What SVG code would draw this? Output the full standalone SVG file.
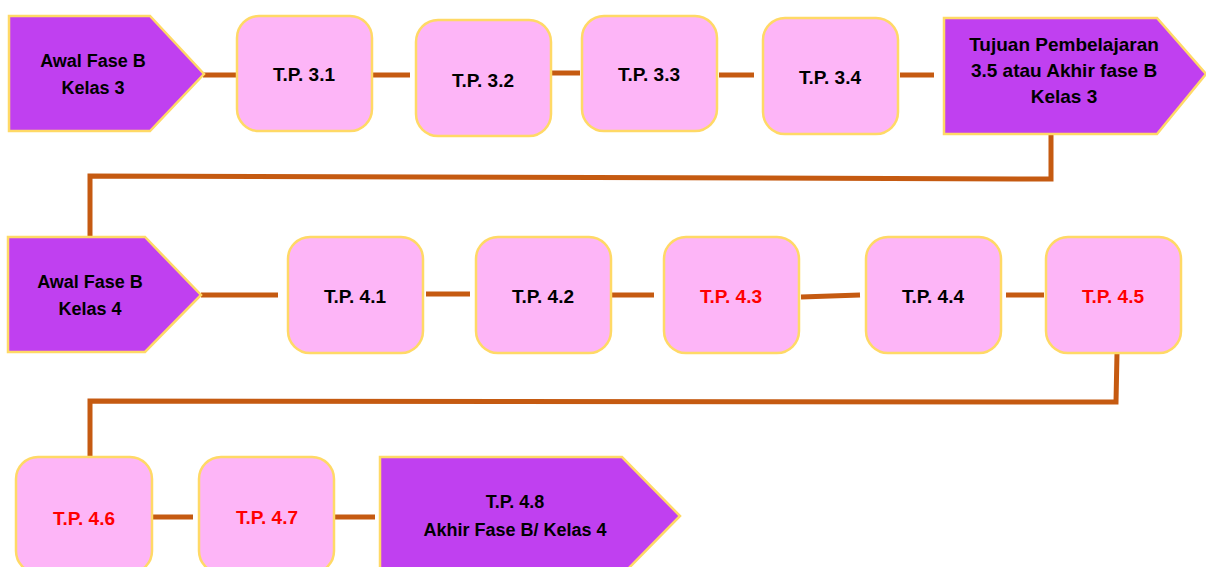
<svg xmlns="http://www.w3.org/2000/svg" width="1206" height="567" viewBox="0 0 1206 567">
<style>
.pent{fill:#C040F0;stroke:#FFD966;stroke-width:2.5}
.box{fill:#FDB5F7;stroke:#FFD966;stroke-width:2.5}
.t{font-family:"Liberation Sans",Arial,sans-serif;font-weight:bold;font-size:19px;text-anchor:middle;fill:#000}
.s{font-size:18px}
.r{fill:#FF0000}
.c{fill:none;stroke:#C55A11;stroke-width:5}
</style>
<rect width="1206" height="567" fill="#fff"/>
<g id="connectors">
<line class="c" x1="203" y1="75" x2="237" y2="75"/>
<line class="c" x1="372" y1="75" x2="410" y2="75"/>
<line class="c" x1="551" y1="73" x2="580" y2="73"/>
<line class="c" x1="719" y1="75" x2="754" y2="75"/>
<line class="c" x1="900" y1="75" x2="934" y2="75"/>
<polyline class="c" points="1051,134 1051,179 90,176 90,237"/>
<line class="c" x1="201" y1="295" x2="278" y2="295"/>
<line class="c" x1="426" y1="294" x2="470" y2="294"/>
<line class="c" x1="611" y1="295" x2="654" y2="295"/>
<line class="c" x1="801" y1="297" x2="860" y2="295"/>
<line class="c" x1="1006" y1="295" x2="1044" y2="295"/>
<polyline class="c" points="1117,353 1116,402 90,401 90,457"/>
<line class="c" x1="153" y1="517" x2="193" y2="517"/>
<line class="c" x1="335" y1="517" x2="375" y2="517"/>
</g>
<g id="awal3">
<polygon class="pent" points="9,16 150,16 204,74 150,131 9,131"/>
<text class="t s" x="93" y="67">Awal Fase B</text>
<text class="t s" x="93" y="94">Kelas 3</text>
</g>
<g id="tp31"><rect class="box" x="237" y="16" width="135" height="115" rx="22"/><text class="t" x="304" y="81">T.P. 3.1</text></g>
<g id="tp32"><rect class="box" x="416" y="20" width="135" height="116" rx="22"/><text class="t" x="483" y="87">T.P. 3.2</text></g>
<g id="tp33"><rect class="box" x="582" y="16" width="135" height="115" rx="22"/><text class="t" x="649" y="81">T.P. 3.3</text></g>
<g id="tp34"><rect class="box" x="763" y="18" width="135" height="116" rx="22"/><text class="t" x="830" y="84">T.P. 3.4</text></g>
<g id="akhir3">
<polygon class="pent" points="944,18 1157,18 1206,74 1157,134 944,134"/>
<text class="t" x="1064" y="51">Tujuan Pembelajaran</text>
<text class="t" x="1064" y="77">3.5 atau Akhir fase B</text>
<text class="t" x="1064" y="103">Kelas 3</text>
</g>
<g id="awal4">
<polygon class="pent" points="8,237 145,237 201,295 145,352 8,352"/>
<text class="t s" x="90" y="288">Awal Fase B</text>
<text class="t s" x="90" y="315">Kelas 4</text>
</g>
<g id="tp41"><rect class="box" x="288" y="237" width="135" height="116" rx="22"/><text class="t" x="355" y="303">T.P. 4.1</text></g>
<g id="tp42"><rect class="box" x="476" y="237" width="135" height="116" rx="22"/><text class="t" x="543" y="303">T.P. 4.2</text></g>
<g id="tp43"><rect class="box" x="664" y="237" width="135" height="116" rx="22"/><text class="t r" x="731" y="303">T.P. 4.3</text></g>
<g id="tp44"><rect class="box" x="866" y="237" width="135" height="116" rx="22"/><text class="t" x="933" y="303">T.P. 4.4</text></g>
<g id="tp45"><rect class="box" x="1046" y="237" width="135" height="116" rx="22"/><text class="t r" x="1113" y="303">T.P. 4.5</text></g>
<g id="tp46"><rect class="box" x="16" y="457" width="136" height="116" rx="22"/><text class="t r" x="84" y="525">T.P. 4.6</text></g>
<g id="tp47"><rect class="box" x="199" y="457" width="135" height="116" rx="22"/><text class="t r" x="267" y="524">T.P. 4.7</text></g>
<g id="akhir4">
<polygon class="pent" points="380,457 622,457 680,516 622,575 380,575"/>
<text class="t s" x="515" y="508">T.P. 4.8</text>
<text class="t s" x="515" y="536">Akhir Fase B/ Kelas 4</text>
</g>
</svg>
